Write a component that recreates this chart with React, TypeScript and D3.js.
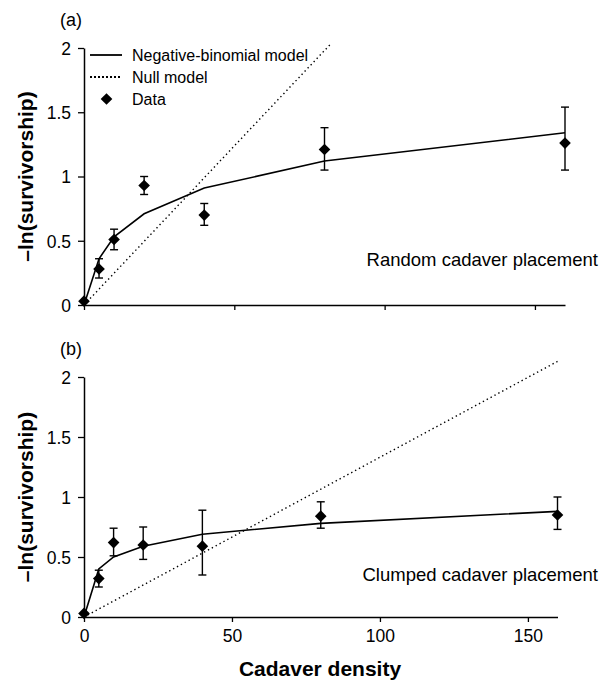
import React, { useEffect, useRef } from 'react';
import * as d3 from 'd3';

// cadaver densities (x)
const densities = [0, 5, 10, 20, 40, 80, 160];

// (a) random cadaver placement
const randomObserved = [0.03, 0.28, 0.51, 0.93, 0.7, 1.21, 1.26];
const randomUpper = [null, 0.36, 0.59, 1.0, 0.79, 1.38, 1.54];
const randomLower = [null, 0.21, 0.43, 0.86, 0.62, 1.05, 1.05];
const randomNegBin = [0, 0.36, 0.53, 0.71, 0.91, 1.12, 1.34];
const randomNullX = [0, 82];
const randomNullY = [0, 2.03];

// (b) clumped cadaver placement
const clumpedObserved = [0.03, 0.32, 0.62, 0.6, 0.59, 0.84, 0.85];
const clumpedUpper = [null, 0.39, 0.74, 0.75, 0.89, 0.96, 1.0];
const clumpedLower = [null, 0.25, 0.51, 0.48, 0.35, 0.74, 0.73];
const clumpedNegBin = [0, 0.4, 0.5, 0.59, 0.69, 0.78, 0.88];
const clumpedNullX = [0, 160];
const clumpedNullY = [0, 2.13];

const xTicks = [0, 50, 100, 150];
const yTicks = [0, 0.5, 1, 1.5, 2];

const legendLabels = ['Negative-binomial model', 'Null model', 'Data'];

const FONT = '"Liberation Sans", Arial, Helvetica, sans-serif';
const W = 610;
const H = 680;

type Panel = {
  tag: string;
  note: string;
  observed: number[];
  upper: (number | null)[];
  lower: (number | null)[];
  negBin: number[];
  nullX: number[];
  nullY: number[];
  xRange: [number, number];
  yRange: [number, number];
  showXLabels: boolean;
  legend: boolean;
};

const panels: Panel[] = [
  {
    tag: '(a)', note: 'Random cadaver placement',
    observed: randomObserved, upper: randomUpper, lower: randomLower,
    negBin: randomNegBin, nullX: randomNullX, nullY: randomNullY,
    xRange: [84, 565], yRange: [305, 48], showXLabels: false, legend: true
  },
  {
    tag: '(b)', note: 'Clumped cadaver placement',
    observed: clumpedObserved, upper: clumpedUpper, lower: clumpedLower,
    negBin: clumpedNegBin, nullX: clumpedNullX, nullY: clumpedNullY,
    xRange: [84, 557.5], yRange: [617, 377], showXLabels: true, legend: false
  }
];

const App = () => {
  const svgRef = useRef<SVGSVGElement>(null);

  useEffect(() => {
    if (!svgRef.current) return;
    const svg = d3.select(svgRef.current);
    svg.selectAll('*').remove();

    svg.append('rect').attr('width', W).attr('height', H).attr('fill', 'white');

    const diamond = d3.symbol().type(d3.symbolSquare).size(68);

    panels.forEach(p => {
      const x = d3.scaleLinear().domain([0, 160]).range(p.xRange);
      const y = d3.scaleLinear().domain([0, 2]).range(p.yRange);
      const g = svg.append('g');

      // axes
      const yAxis = g.append('g')
        .attr('transform', `translate(${p.xRange[0]},0)`)
        .call(d3.axisLeft(y).tickValues(yTicks).tickSize(6).tickSizeOuter(0).tickPadding(7)
          .tickFormat(d => d3.format('~g')(d as number)));
      const xAxis = g.append('g')
        .attr('transform', `translate(0,${p.yRange[0]})`)
        .call(d3.axisBottom(x).tickValues(xTicks).tickSize(5).tickSizeOuter(0).tickPadding(8)
          .tickFormat(d => (p.showXLabels ? String(d) : '')));
      [yAxis, xAxis].forEach(a => {
        a.select('.domain').attr('stroke', '#000').attr('stroke-width', 1.5);
        a.selectAll('.tick line').attr('stroke', '#000').attr('stroke-width', 1.3);
        a.selectAll('.tick text')
          .attr('fill', '#000')
          .attr('font-family', FONT)
          .attr('font-size', '17.5px');
      });
      yAxis.selectAll('.tick text').attr('dy', '0.36em');

      // null model (dotted)
      const nullPts = p.nullX.map((v, i) => [x(v), y(p.nullY[i])] as [number, number]);
      g.append('path')
        .attr('d', d3.line()(nullPts))
        .attr('fill', 'none')
        .attr('stroke', '#000')
        .attr('stroke-width', 1.4)
        .attr('stroke-dasharray', '1.4,3');

      // negative-binomial model
      const nbPts = densities.map((v, i) => [x(v), y(p.negBin[i])] as [number, number]);
      g.append('path')
        .attr('d', d3.line()(nbPts))
        .attr('fill', 'none')
        .attr('stroke', '#000')
        .attr('stroke-width', 1.6);

      // error bars
      densities.forEach((v, i) => {
        const hi = p.upper[i];
        const lo = p.lower[i];
        if (hi == null || lo == null) return;
        const cx = x(v);
        const eb = g.append('g').attr('stroke', '#000').attr('stroke-width', 1.4);
        eb.append('line').attr('x1', cx).attr('x2', cx).attr('y1', y(hi)).attr('y2', y(lo));
        eb.append('line').attr('x1', cx - 4).attr('x2', cx + 4).attr('y1', y(hi)).attr('y2', y(hi));
        eb.append('line').attr('x1', cx - 4).attr('x2', cx + 4).attr('y1', y(lo)).attr('y2', y(lo));
      });

      // data diamonds
      g.selectAll('.pt')
        .data(densities)
        .enter()
        .append('path')
        .attr('d', diamond()!)
        .attr('transform', (d, i) => `translate(${x(d)},${y(p.observed[i])}) rotate(45)`)
        .attr('fill', '#000');

      // panel tag
      g.append('text')
        .attr('x', 60)
        .attr('y', p.yRange[1] - 22)
        .attr('font-family', FONT)
        .attr('font-size', '18px')
        .text(p.tag);

      // placement note
      g.append('text')
        .attr('x', 598)
        .attr('y', p.yRange[0] - 39 - (p.legend ? 0 : -3))
        .attr('text-anchor', 'end')
        .attr('font-family', FONT)
        .attr('font-size', '18.5px')
        .text(p.note);

      // y label
      g.append('text')
        .attr('transform', `translate(33,${(p.yRange[0] + p.yRange[1]) / 2}) rotate(-90)`)
        .attr('text-anchor', 'middle')
        .attr('font-family', FONT)
        .attr('font-size', '21px')
        .attr('font-weight', 'bold')
        .text('\u2013ln(survivorship)');

      if (p.legend) {
        const lg = g.append('g');
        const rowY = (i: number) => 55 + i * 22;
        lg.append('line').attr('x1', 90).attr('x2', 122).attr('y1', rowY(0)).attr('y2', rowY(0))
          .attr('stroke', '#000').attr('stroke-width', 1.8);
        lg.append('line').attr('x1', 90).attr('x2', 122).attr('y1', rowY(1)).attr('y2', rowY(1))
          .attr('stroke', '#000').attr('stroke-width', 2).attr('stroke-dasharray', '2,2');
        lg.append('path').attr('d', diamond()!)
          .attr('transform', `translate(106.5,${rowY(2)}) rotate(45)`)
          .attr('fill', '#000');
        legendLabels.forEach((t, i) => {
          lg.append('text')
            .attr('x', 132)
            .attr('y', rowY(i) + 6)
            .attr('font-family', FONT)
            .attr('font-size', '16px')
            .text(t);
        });
      }
    });

    // x axis title
    svg.append('text')
      .attr('x', 320)
      .attr('y', 676)
      .attr('text-anchor', 'middle')
      .attr('font-family', FONT)
      .attr('font-size', '21px')
      .attr('font-weight', 'bold')
      .text('Cadaver density');
  }, []);

  return (
    <div style={{ position: 'absolute', left: 0, top: 0, width: W, height: H }}>
      <svg ref={svgRef} width={W} height={H} style={{ display: 'block' }}></svg>
    </div>
  );
};

export default App;
